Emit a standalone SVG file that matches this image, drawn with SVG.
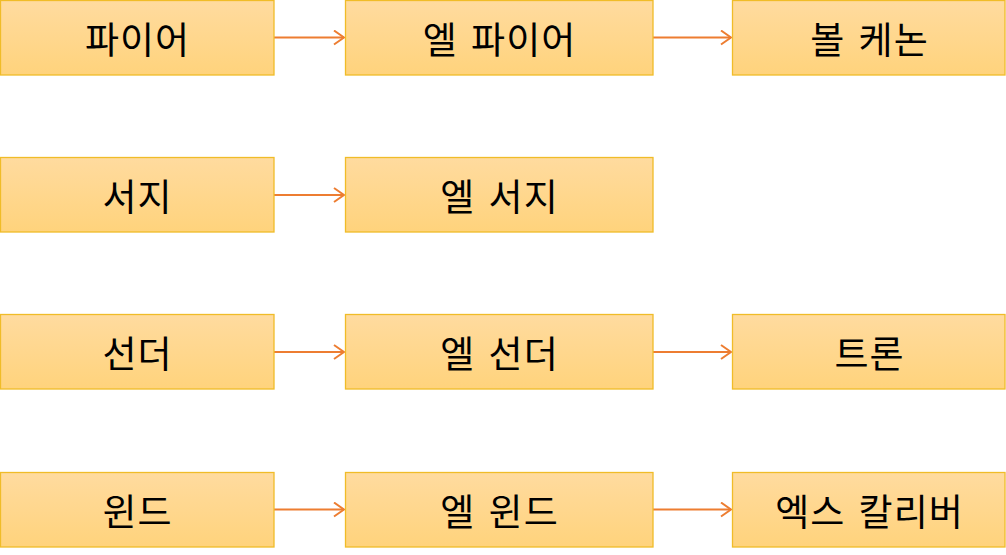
<svg xmlns="http://www.w3.org/2000/svg" width="1006" height="555" viewBox="0 0 1006 555">
<defs>
<linearGradient id="g" x1="0" y1="0" x2="0" y2="1">
<stop offset="0" stop-color="#FFDB9F"/>
<stop offset="1" stop-color="#FFD37C"/>
</linearGradient>
<marker id="ah" viewBox="0 0 12 16" markerWidth="12" markerHeight="16" refX="11" refY="8" orient="auto" markerUnits="userSpaceOnUse">
<path d="M1,1 L11,8 L1,15" fill="none" stroke="#ED7D31" stroke-width="2"/>
</marker>
</defs>
<style>
.b rect{fill:url(#g);stroke:#F0BC28;stroke-width:1.3}
.b text{font-family:"Noto Sans CJK KR","Noto Sans",sans-serif;font-size:37px;letter-spacing:1px;word-spacing:4px;fill:#000;text-anchor:middle;dominant-baseline:central}
.c line{stroke:#ED7D31;stroke-width:2;marker-end:url(#ah)}
</style>
<rect width="1006" height="555" fill="#fff"/>
<g class="c" id="connectors">
<line x1="274" y1="37.5" x2="344" y2="37.5"/>
<line x1="653" y1="37.5" x2="731" y2="37.5"/>
<line x1="274" y1="195" x2="344" y2="195"/>
<line x1="274" y1="352" x2="344" y2="352"/>
<line x1="653" y1="352" x2="731" y2="352"/>
<line x1="274" y1="509.5" x2="344" y2="509.5"/>
<line x1="653" y1="509.5" x2="731" y2="509.5"/>
</g>
<g class="b" id="n1"><rect x="0.5" y="0.5" width="273.5" height="74.5"/><text x="137.5" y="37.5">파이어</text></g>
<g class="b" id="n2"><rect x="345.5" y="0.5" width="307.5" height="74.5"/><text x="499.5" y="37.5">엘 파이어</text></g>
<g class="b" id="n3"><rect x="732.5" y="0.5" width="272.5" height="74.5"/><text x="869.5" y="37.5">볼 케논</text></g>
<g class="b" id="n4"><rect x="0.5" y="157.5" width="273.5" height="74.5"/><text x="137.5" y="194.5">서지</text></g>
<g class="b" id="n5"><rect x="345.5" y="157.5" width="307.5" height="74.5"/><text x="499.5" y="194.5">엘 서지</text></g>
<g class="b" id="n6"><rect x="0.5" y="314.5" width="273.5" height="74.5"/><text x="137.5" y="351.5">선더</text></g>
<g class="b" id="n7"><rect x="345.5" y="314.5" width="307.5" height="74.5"/><text x="499.5" y="351.5">엘 선더</text></g>
<g class="b" id="n8"><rect x="732.5" y="314.5" width="272.5" height="74.5"/><text x="869.5" y="351.5">트론</text></g>
<g class="b" id="n9"><rect x="0.5" y="472.5" width="273.5" height="74.5"/><text x="137.5" y="509.5">윈드</text></g>
<g class="b" id="n10"><rect x="345.5" y="472.5" width="307.5" height="74.5"/><text x="499.5" y="509.5">엘 윈드</text></g>
<g class="b" id="n11"><rect x="732.5" y="472.5" width="272.5" height="74.5"/><text x="869.5" y="509.5">엑스 칼리버</text></g>
</svg>
